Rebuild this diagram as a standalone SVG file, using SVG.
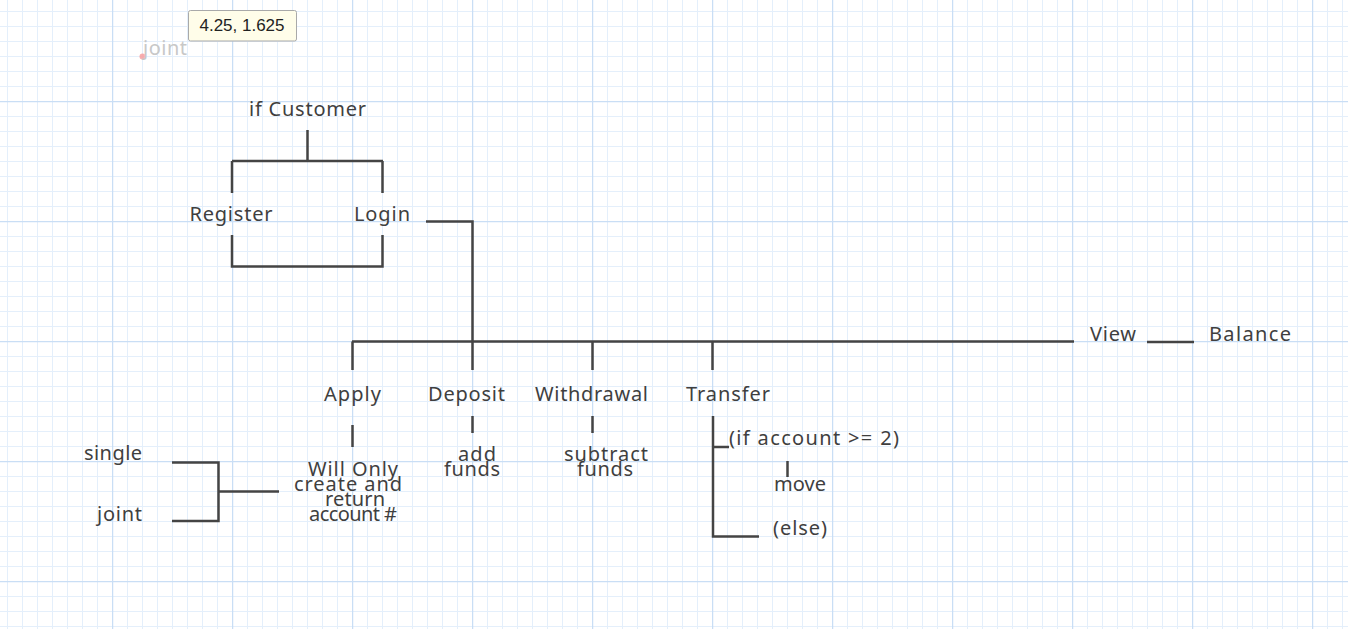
<svg xmlns="http://www.w3.org/2000/svg" width="1348" height="629" viewBox="0 0 1348 629">
<style>
.t{font-family:"Noto Sans","DejaVu Sans",sans-serif;font-size:20px;fill:#3f3f3f;text-anchor:middle}
.l{fill:none;stroke:#444;stroke-width:2.5;stroke-linecap:butt;stroke-linejoin:miter}
.mn{stroke:#e4effb;stroke-width:1}
.mj{stroke:#c9def5;stroke-width:1.5}
</style>
<defs>
<pattern id="grid" patternUnits="userSpaceOnUse" x="112" y="101" width="120" height="120">
<path class="mn" d="M15.5 0V120M30.5 0V120M45.5 0V120M60.5 0V120M75.5 0V120M90.5 0V120M105.5 0V120M0 15.5H120M0 30.5H120M0 45.5H120M0 60.5H120M0 75.5H120M0 90.5H120M0 105.5H120"/>
<path class="mj" d="M0.5 0V120M0 0.5H120"/>
</pattern>
</defs>
<rect width="1348" height="629" fill="#fff"/>
<rect width="1348" height="629" fill="url(#grid)"/>

<g id="connectors">
<path class="l" d="M307.5 130V161M232 161H383M232 161V193M382.5 161V193"/>
<path class="l" d="M232 235V266.5H382.5V235"/>
<path class="l" d="M426 221.5H472.5V341.5"/>
<path class="l" d="M352 341.5H1074M352.5 341.5V370M472.5 341.5V370M592.5 341.5V370M712.5 341.5V370"/>
<path class="l" d="M1147 342H1194"/>
<path class="l" d="M352.5 425V447"/>
<path class="l" d="M472.5 416V433M592.5 416V433"/>
<path class="l" d="M713 416V536.5H759M713 447H729M787.5 461V477"/>
<path class="l" d="M172 462.5H218.5V521H172M218.5 491.5H279"/>
</g>

<g id="tooltip">
<rect x="188.5" y="10.5" width="108" height="30.5" rx="2" fill="#fffde9" stroke="#a9a9a9" stroke-width="1"/>
<text x="242" y="31" style="font-family:'Liberation Sans',Arial,sans-serif;font-size:17px;fill:#222;text-anchor:middle">4.25, 1.625</text>
</g>
<g id="ghost-joint">
<circle cx="142.5" cy="56.5" r="3" fill="#f79a9a" opacity="0.8"/>
<text class="t" x="165" y="55" textLength="44" style="fill:#c8c8c8">joint</text>
</g>

<g id="if-customer"><text class="t" x="307.5" y="116" textLength="117">if Customer</text></g>
<g id="register"><text class="t" x="231" y="221" textLength="83">Register</text></g>
<g id="login"><text class="t" x="382" y="221" textLength="56">Login</text></g>
<g id="view"><text class="t" x="1113" y="341" textLength="46">View</text></g>
<g id="balance"><text class="t" x="1250" y="341" textLength="82">Balance</text></g>
<g id="apply"><text class="t" x="352.5" y="401" textLength="57">Apply</text></g>
<g id="deposit"><text class="t" x="466.5" y="401" textLength="77">Deposit</text></g>
<g id="withdrawal"><text class="t" x="591.5" y="401" textLength="113">Withdrawal</text></g>
<g id="transfer"><text class="t" x="728" y="401" textLength="84">Transfer</text></g>
<g id="will-only">
<text class="t" x="353" y="476" textLength="90">Will Only</text>
<text class="t" x="348" y="491" textLength="108">create and</text>
<text class="t" x="355" y="506" textLength="60">return</text>
<text class="t" x="353" y="521" textLength="88">account #</text>
</g>
<g id="add-funds">
<text class="t" x="477" y="461" textLength="38">add</text>
<text class="t" x="472" y="476" textLength="56">funds</text>
</g>
<g id="subtract-funds">
<text class="t" x="606" y="461" textLength="84">subtract</text>
<text class="t" x="605" y="476" textLength="56">funds</text>
</g>
<g id="if-account"><text class="t" x="814" y="445" textLength="170">(if account &gt;= 2)</text></g>
<g id="move"><text class="t" x="800" y="491" textLength="52">move</text></g>
<g id="else"><text class="t" x="800" y="535" textLength="54">(else)</text></g>
<g id="single"><text class="t" x="113" y="460" textLength="58">single</text></g>
<g id="joint"><text class="t" x="119.5" y="521" textLength="45">joint</text></g>
</svg>
